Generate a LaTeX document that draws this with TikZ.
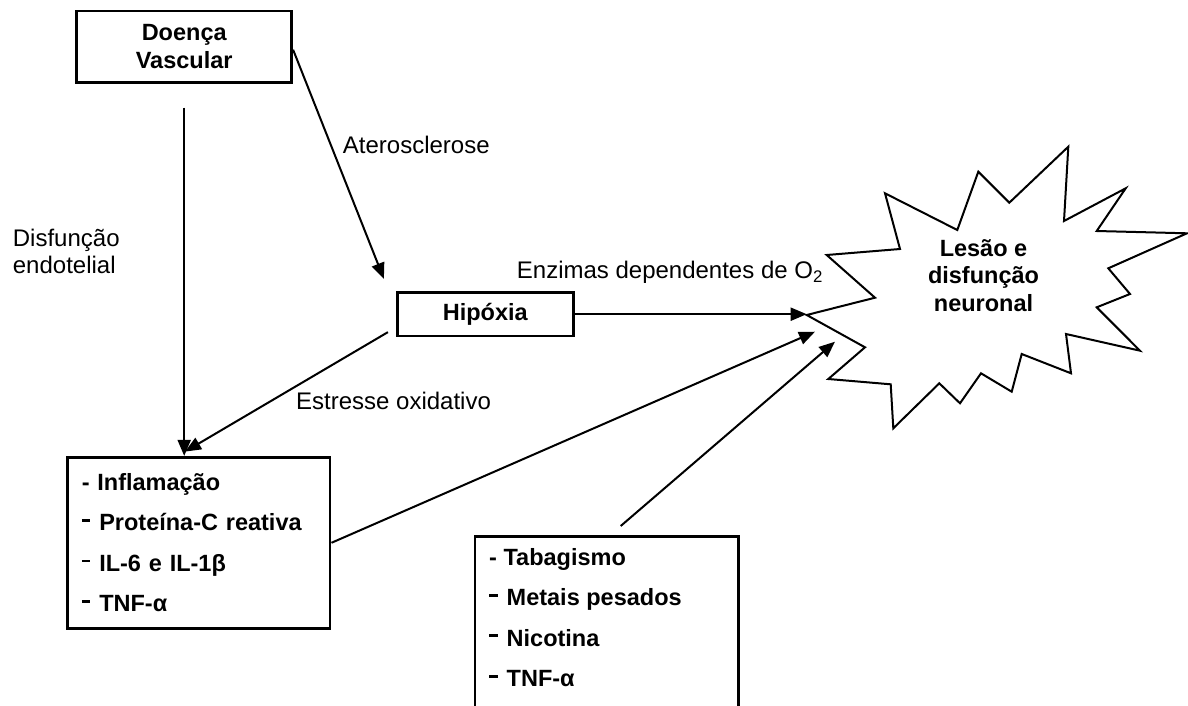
\documentclass[tikz,border=0pt]{standalone}
\usepackage{fontspec}
\setmainfont{Liberation Sans}
\usetikzlibrary{arrows.meta,calc}
\newcommand\labelsize{\fontsize{24pt}{27.5pt}\selectfont}
\newcommand\boldsize{\fontsize{23.5pt}{27.5pt}\selectfont}
\newcommand\listsize{\fontsize{23.5pt}{40.5pt}\selectfont}
\newcommand\itemdash{\rule[9pt]{8.5pt}{2.8pt}\hspace{9pt}}
\tikzset{
  box/.style={draw, line width=2.8pt, inner sep=0pt, font=\boldsize\bfseries},
  listbox/.style={box, font=\listsize\bfseries, align=left},
  conn/.style={line width=2pt, -{Triangle[length=16pt,width=13pt]}},
  lbl/.style={inner sep=0pt, font=\labelsize},
  burst/.style={draw, line width=2pt, line join=miter, fill=white}
}
\begin{document}
\begin{tikzpicture}[x=1pt,y=-1pt]
  \fill[white] (0,0) rectangle (1188,706);
  \useasboundingbox (0,0) rectangle (1188,706);
  \clip (0,0) rectangle (1188,706);

  % boxes
  \node[box, minimum width=215pt, minimum height=71.3pt, align=center]
    (doenca) at (184.2,46.7) {Doença\\Vascular};
  \node[box, minimum width=176pt, minimum height=43.7pt]
    (hipoxia) at (485.3,314.2) {Hipóxia};
  \node[listbox, text width=233.9pt, inner xsep=14.4pt, minimum height=171pt]
    (inflam) at (198.7,542.8)
    {- Inflamação\\ \itemdash Proteína-C reativa\\ \itemdash IL-6 e IL-1β\\ \itemdash TNF-α};
  \node[box, minimum width=263.3pt, minimum height=220pt, anchor=north]
    (tabag) at (606.7,535) {};
  \node[inner sep=0pt, font=\listsize\bfseries, align=left, anchor=north west]
    (tabagtxt) at (489,548)
    {- Tabagismo\\ \itemdash Metais pesados\\ \itemdash Nicotina\\ \itemdash TNF-α};

  % burst outline
  \draw[burst] (826.7,255) -- (900,249) -- (885,193.3) -- (957.3,230)
    -- (978.3,171.7) -- (1009.3,202.7) -- (1068.3,146.7) -- (1064,221)
    -- (1125.7,188.3) -- (1096.7,231) -- (1187,233.3) -- (1108.3,268.3)
    -- (1130,294) -- (1096.7,307.3) -- (1140,350.7) -- (1066,334)
    -- (1071,373.3) -- (1021.7,354) -- (1011.7,391.7) -- (981,373.3)
    -- (960,403.3) -- (939.3,383.3) -- (893.3,428.3) -- (890.7,384.3)
    -- (828.3,379) -- (865,347.3) -- (806.7,315) -- (875,297.7) -- cycle;
  \node[inner sep=0pt, font=\boldsize\bfseries, align=center]
    (lesao) at (983.5,275.5) {Lesão e\\disfunção\\neuronal};

  % arrow ends at the burst
  \coordinate (burstA) at (806.7,314.2);
  \coordinate (burstB) at (815,331.7);
  \coordinate (burstC) at (835,341.7);

  % connectors
  \draw[conn] ([yshift=-24pt]doenca.south) -- (doenca.south |- inflam.north);
  \draw[conn] ([yshift=-3pt]doenca.east) -- ($(hipoxia.north west)+(-12,-12)$);
  \draw[conn] ($(hipoxia.south west)+(-8,-5.3)$) -- ($(inflam.north)+(-13.7,-4.3)$);
  \draw[conn] (hipoxia.east) -- (burstA);
  \draw[conn] (inflam.east) -- (burstB);
  \draw[conn] ($(tabag.north)+(14,-9)$) -- (burstC);

  % labels
  \node[lbl, anchor=base west] (ater) at (342.7,153.3) {Aterosclerose};
  \node[lbl, align=left, anchor=north west] (disf) at (12.7,228.5) {Disfunção\\endotelial};
  \node[lbl, anchor=base west] (estr) at (296,409.8) {Estresse oxidativo};
  \node[lbl, anchor=base west] (enz) at (516.7,278.3) {Enzimas dependentes de O\textsubscript{2}};
\end{tikzpicture}
\end{document}
